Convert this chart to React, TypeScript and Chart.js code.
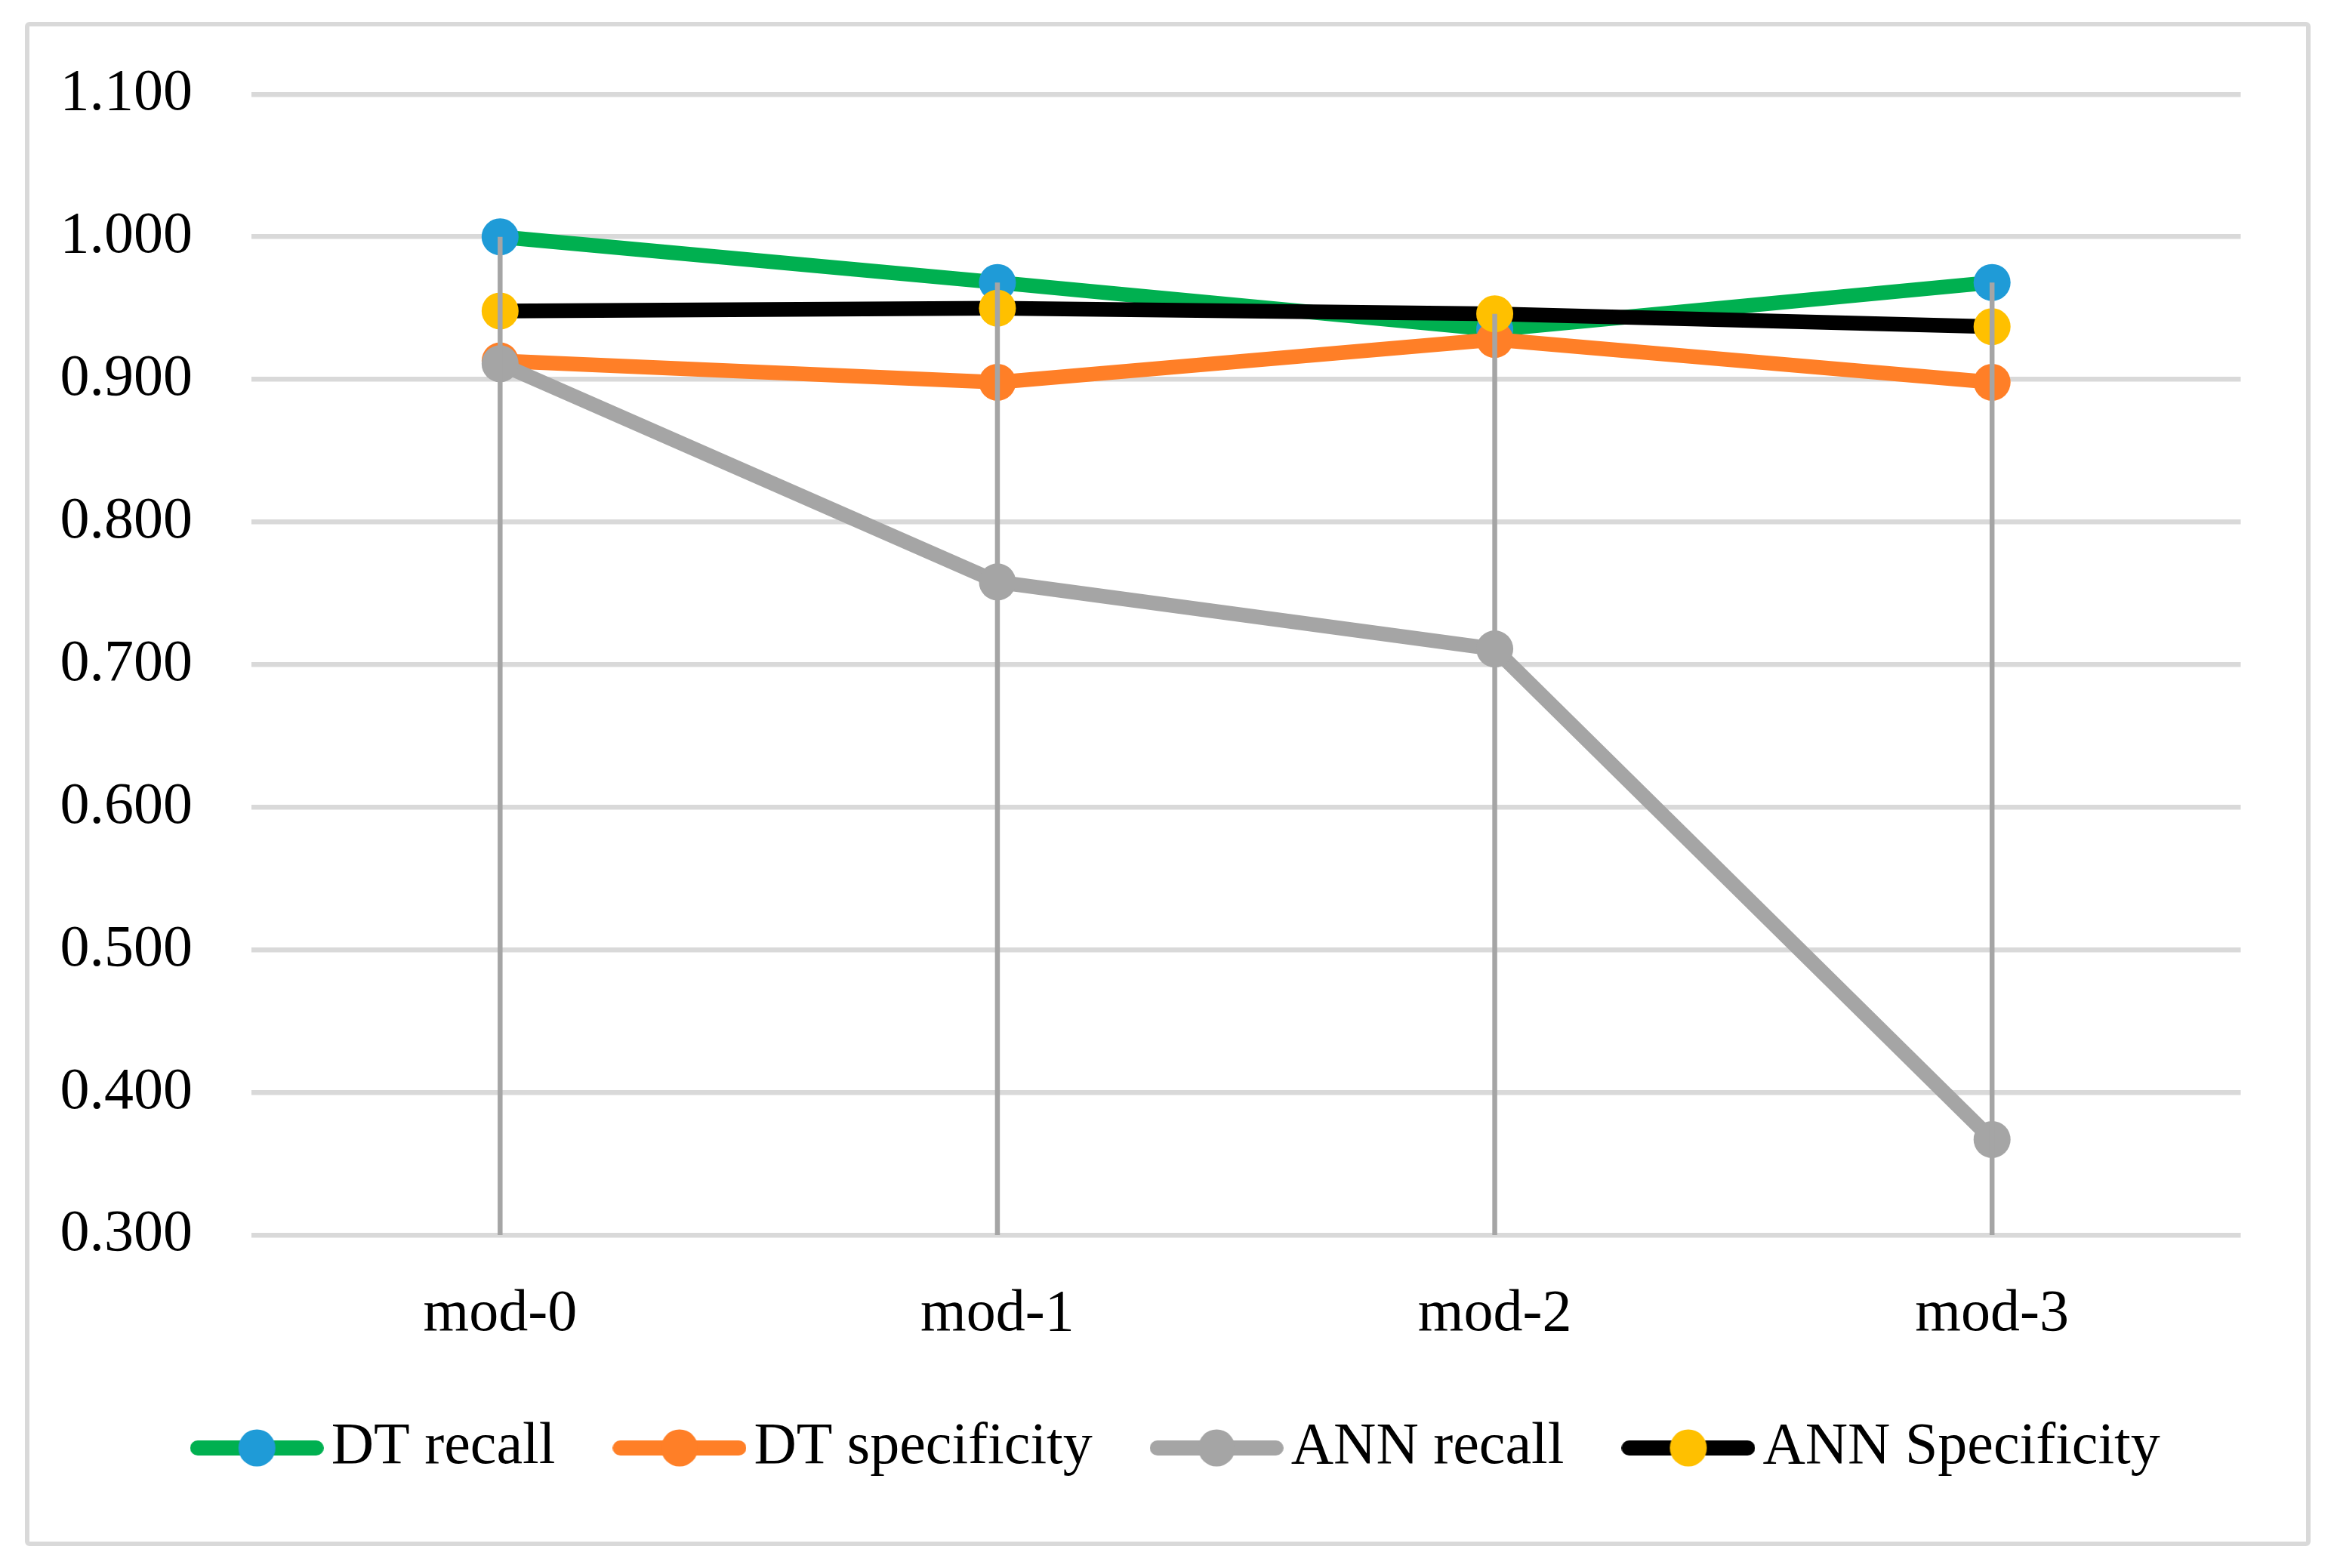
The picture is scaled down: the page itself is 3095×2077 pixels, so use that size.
import React, { useEffect, useRef } from 'react';
import { Chart, registerables } from 'chart.js';

Chart.register(...registerables);

// ---- data ----
const categories = ['mod-0', 'mod-1', 'mod-2', 'mod-3'];
const dtRecall = [1.0, 0.968, 0.935, 0.968];
const dtSpecificity = [0.913, 0.898, 0.928, 0.898];
const annRecall = [0.911, 0.758, 0.711, 0.367];
const annSpecificity = [0.948, 0.95, 0.946, 0.937];
const seriesNames = ['DT recall', 'DT specificity', 'ANN recall', 'ANN Specificity'];
const seriesValues = [dtRecall, dtSpecificity, annRecall, annSpecificity];
const yMin = 0.3;
const yMax = 1.1;
const yStep = 0.1;

// ---- styles ----
const lineColors = ['#00B050', '#FF7F27', '#A5A5A5', '#000000'];
const markerColors = ['#1F9BD7', '#FF7F27', '#A5A5A5', '#FFC000'];
const FONT = '"Liberation Serif", "Times New Roman", serif';
const FONT_SIZE = 78;
const LEGEND_SHIFT = 52;

function makeLegendImage(lineColor: string, markerColor: string): HTMLCanvasElement {
  const c = document.createElement('canvas');
  c.width = 177;
  c.height = 50;
  const g = c.getContext('2d')!;
  g.strokeStyle = lineColor;
  g.lineWidth = 20;
  g.lineCap = 'round';
  g.beginPath();
  g.moveTo(10, 25);
  g.lineTo(167, 25);
  g.stroke();
  g.fillStyle = markerColor;
  g.beginPath();
  g.arc(88.5, 25, 24.5, 0, Math.PI * 2);
  g.fill();
  return c;
}

const dropLinesPlugin = {
  id: 'dropLines',
  afterDatasetsDraw(chart: any) {
    const { ctx, chartArea, scales } = chart;
    const xs = scales.x;
    const ys = scales.y;
    ctx.save();
    ctx.strokeStyle = '#A5A5A5';
    ctx.lineWidth = 6.5;
    ctx.lineCap = 'butt';
    categories.forEach((_, i) => {
      const top = Math.max(...seriesValues.map((s) => s[i]));
      const px = xs.getPixelForValue(i);
      ctx.beginPath();
      ctx.moveTo(px, ys.getPixelForValue(top));
      ctx.lineTo(px, chartArea.bottom);
      ctx.stroke();
    });
    ctx.restore();
  },
};

const legendShiftPlugin = {
  id: 'legendShift',
  afterLayout(chart: any) {
    const lg = chart.legend;
    if (lg) {
      lg.left += LEGEND_SHIFT;
      lg.right += LEGEND_SHIFT;
    }
  },
};

export default function App() {
  const ref = useRef<HTMLCanvasElement>(null);

  useEffect(() => {
    document.body.style.margin = '0';
    document.body.style.overflow = 'hidden';
    const canvas = ref.current!;
    const legendImages = seriesNames.map((_, i) => makeLegendImage(lineColors[i], markerColors[i]));

    const chart = new Chart(canvas, {
      type: 'line',
      data: {
        labels: categories,
        datasets: seriesNames.map((name, i) => ({
          label: name,
          data: seriesValues[i],
          borderColor: lineColors[i],
          backgroundColor: markerColors[i],
          borderWidth: 19.5,
          borderJoinStyle: 'round' as const,
          borderCapStyle: 'round' as const,
          tension: 0,
          fill: false,
          pointRadius: 24.5,
          pointHoverRadius: 24.5,
          pointBorderWidth: 0,
          pointBackgroundColor: markerColors[i],
          pointBorderColor: markerColors[i],
          order: seriesNames.length - 1 - i,
        })),
      },
      options: {
        responsive: false,
        animation: false,
        events: [],
        layout: {
          padding: { left: 70, right: 127.5, top: 124, bottom: 110 },
        },
        plugins: {
          tooltip: { enabled: false },
          legend: {
            display: true,
            position: 'bottom',
            labels: {
              usePointStyle: true,
              pointStyleWidth: 119,
              padding: 105,
              color: '#000',
              font: { family: FONT, size: FONT_SIZE },
              generateLabels: () =>
                seriesNames.map((name, i) => ({
                  text: name,
                  fillStyle: markerColors[i],
                  strokeStyle: 'rgba(0,0,0,0)',
                  lineWidth: 0,
                  pointStyle: legendImages[i] as any,
                  hidden: false,
                  datasetIndex: i,
                  fontColor: '#000',
                })),
            },
          },
        },
        scales: {
          x: {
            type: 'category',
            offset: true,
            grid: { display: false, drawTicks: false, tickLength: 0 },
            border: { display: false },
            ticks: {
              color: '#000',
              padding: 59,
              font: { family: FONT, size: FONT_SIZE },
            },
            afterFit: (s: any) => {
              s.height = 138;
            },
          },
          y: {
            min: yMin,
            max: yMax,
            grid: { color: '#D9D9D9', lineWidth: 6.5, drawTicks: false, tickLength: 0 },
            border: { display: false },
            ticks: {
              stepSize: yStep,
              color: '#000',
              padding: 78,
              font: { family: FONT, size: FONT_SIZE },
              callback: (v: any) => Number(v).toFixed(3),
            },
            afterFit: (s: any) => {
              s.width = 263;
            },
          },
        },
      },
      plugins: [dropLinesPlugin, legendShiftPlugin],
    });

    return () => chart.destroy();
  }, []);

  return (
    <div style={{ position: 'relative', width: 3095, height: 2077, background: '#fff', overflow: 'hidden' }}>
      <canvas ref={ref} width={3095} height={2077} style={{ position: 'absolute', left: 0, top: 0 }} />
      <div
        style={{
          position: 'absolute',
          left: 33,
          top: 29,
          width: 3027,
          height: 2019,
          boxSizing: 'border-box',
          border: '6px solid #D9D9D9',
          borderRadius: 6,
          pointerEvents: 'none',
        }}
      />
    </div>
  );
}
